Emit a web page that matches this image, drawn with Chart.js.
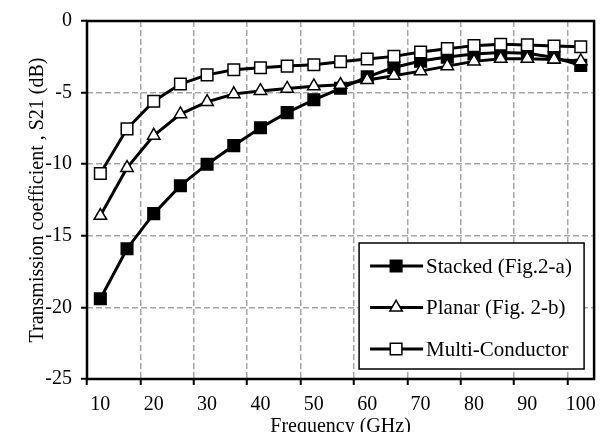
<!DOCTYPE html>
<html>
<head>
<meta charset="utf-8">
<script src="https://cdn.jsdelivr.net/npm/chart.js@4.4.1/dist/chart.umd.min.js"></script>
<style>
  html, body { margin: 0; padding: 0; background: #fff; }
  #wrap { width: 604px; height: 432px; }
</style>
</head>
<body>
<div id="wrap"><canvas id="chart"></canvas></div>
<script>
// Frequency points (GHz), one category each
const frequencies = [10, 15, 20, 25, 30, 35, 40, 45, 50, 55, 60, 65, 70, 75, 80, 85, 90, 95, 100];

// S21 (dB)
const stackedS21 = [-19.4, -15.9, -13.45, -11.5, -10.0, -8.7, -7.45, -6.4, -5.5, -4.7,
    -3.9, -3.25, -2.8, -2.52, -2.3, -2.2, -2.25, -2.55, -3.1];
const planarS21 = [-13.6, -10.25, -8.0, -6.5, -5.65, -5.1, -4.88, -4.72, -4.55, -4.45,
    -4.12, -3.82, -3.5, -3.15, -2.82, -2.63, -2.63, -2.68, -2.8];
const multiConductorS21 = [-10.65, -7.53, -5.6, -4.4, -3.76, -3.4, -3.27, -3.15, -3.06, -2.85,
    -2.65, -2.47, -2.17, -1.93, -1.72, -1.62, -1.67, -1.75, -1.8];

const seriesNames = ['Stacked (Fig.2-a)', 'Planar (Fig. 2-b)', 'Multi-Conductor'];
const yTicks = [0, -5, -10, -15, -20, -25];

const FONT = 'Liberation Serif, Times New Roman, serif';
const GRID_GRAY = '#a6a6a6';

// Frame around the plot area
const framePlugin = {
    id: 'frame',
    beforeDatasetsDraw(chart) {
        const { ctx, chartArea: a } = chart;
        ctx.save();
        ctx.strokeStyle = '#000';
        ctx.lineWidth = 2.5;
        ctx.strokeRect(a.left, a.top, a.right - a.left, a.bottom - a.top);
        ctx.restore();
    }
};

// Boxed legend inside the plot, line + marker per series
const boxLegendPlugin = {
    id: 'boxLegend',
    afterDraw(chart) {
        const { ctx, chartArea: a } = chart;
        const w = 225, h = 126;
        const right = a.right - 10, bottom = a.bottom - 10;
        const left = right - w, top = bottom - h;

        ctx.save();
        ctx.fillStyle = '#fff';
        ctx.fillRect(left, top, w, h);
        ctx.strokeStyle = '#000';
        ctx.lineWidth = 1.5;
        ctx.strokeRect(left, top, w, h);

        chart.data.datasets.forEach((ds, i) => {
            const y = top + 23 + i * 41.5;
            ctx.strokeStyle = ds.borderColor;
            ctx.lineWidth = ds.borderWidth;
            ctx.beginPath();
            ctx.moveTo(left + 11, y);
            ctx.lineTo(left + 64, y);
            ctx.stroke();

            ctx.fillStyle = ds.pointBackgroundColor;
            ctx.strokeStyle = ds.pointBorderColor;
            ctx.lineWidth = ds.pointBorderWidth;
            Chart.helpers.drawPoint(ctx, {
                pointStyle: ds.pointStyle,
                radius: ds.pointRadius,
                rotation: 0,
                borderWidth: ds.pointBorderWidth
            }, left + 37, y);

            ctx.fillStyle = '#000';
            ctx.font = '21px ' + FONT;
            ctx.textAlign = 'left';
            ctx.textBaseline = 'middle';
            ctx.fillText(ds.label, left + 67, y + 1);
        });
        ctx.restore();
    }
};

function makeSeries(label, data, style, fill, radius, order) {
    return {
        label: label,
        data: data,
        borderColor: '#000',
        borderWidth: 3,
        pointStyle: style,
        pointRadius: radius,
        pointHoverRadius: radius,
        pointBackgroundColor: fill,
        pointBorderColor: '#000',
        pointBorderWidth: 1.5,
        tension: 0,
        order: order
    };
}

const ctx = document.getElementById('chart').getContext('2d');
new Chart(ctx, {
    type: 'line',
    data: {
        labels: frequencies.map(String),
        datasets: [
            makeSeries(seriesNames[0], stackedS21, 'rect', '#000', 8.2, 3),
            makeSeries(seriesNames[1], planarS21, 'triangle', '#fff', 7.2, 2),
            makeSeries(seriesNames[2], multiConductorS21, 'rect', '#fff', 8.2, 1)
        ]
    },
    options: {
        responsive: true,
        maintainAspectRatio: false,
        animation: false,
        layout: { padding: { top: 15, right: 8, left: 0, bottom: 0 } },
        plugins: {
            legend: { display: false },
            tooltip: { enabled: false }
        },
        scales: {
            x: {
                type: 'category',
                offset: true,
                afterFit(scale) { scale.height = 53; },
                grid: {
                    offset: true,
                    lineWidth: 1.5,
                    color: (c) => c.index % 2 === 0 ? GRID_GRAY : 'transparent',
                    tickColor: (c) => c.index % 2 === 0 ? '#000' : 'transparent',
                    tickWidth: 2,
                    tickLength: 6,
                    tickBorderDash: []
                },
                border: { display: false, dash: [6, 3] },
                ticks: {
                    autoSkip: false,
                    maxRotation: 0,
                    padding: 8,
                    color: '#000',
                    font: { family: FONT, size: 20 },
                    // label every other category, like the source figure
                    callback: function(value, index) {
                        return index % 2 === 0 ? this.getLabelForValue(value) : '';
                    }
                },
                title: {
                    display: true,
                    text: 'Frequency (GHz)',
                    color: '#000',
                    font: { family: FONT, size: 20, lineHeight: 0.5 },
                    padding: { top: 0, bottom: 0 }
                }
            },
            y: {
                min: -25,
                max: 0,
                afterFit(scale) { scale.width = 87; },
                afterBuildTicks(scale) {
                    scale.ticks = yTicks.map(v => ({ value: v }));
                },
                grid: {
                    lineWidth: 1.5,
                    color: GRID_GRAY,
                    tickColor: '#000',
                    tickWidth: 2,
                    tickLength: 6,
                    tickBorderDash: []
                },
                border: { display: false, dash: [6, 3] },
                ticks: {
                    padding: 9,
                    color: '#000',
                    font: { family: FONT, size: 20 }
                },
                title: {
                    display: true,
                    text: 'Transmission coefficient , S21 (dB)',
                    color: '#000',
                    font: { family: FONT, size: 20, lineHeight: 1 },
                    padding: { top: 28, bottom: 0 }
                }
            }
        }
    },
    plugins: [framePlugin, boxLegendPlugin]
});
</script>
</body>
</html>
